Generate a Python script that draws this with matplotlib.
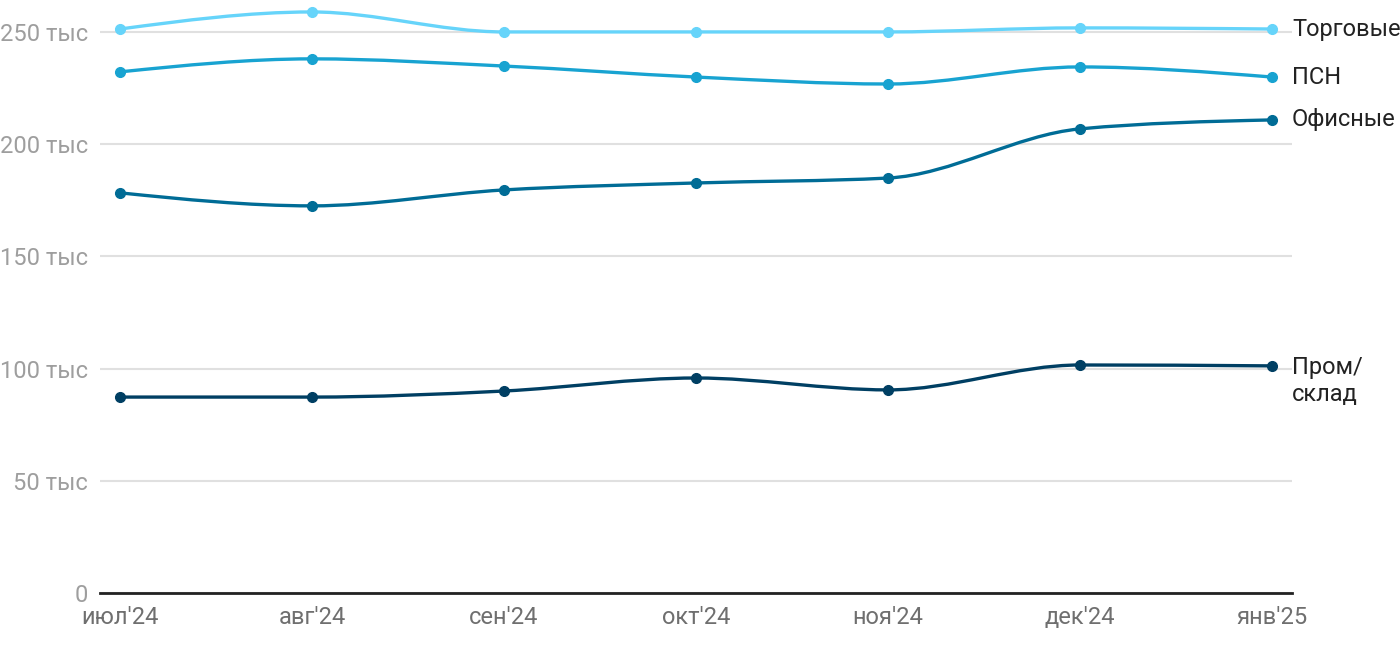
import numpy as np
import matplotlib.pyplot as plt
from matplotlib.path import Path
from matplotlib.patches import PathPatch

plt.rcParams['font.family'] = ['Roboto', 'DejaVu Sans']

months = ["июл'24", "авг'24", "сен'24", "окт'24", "ноя'24", "дек'24", "янв'25"]

torgovye = [251.3, 258.9, 250.0, 250.0, 250.0, 251.8, 251.3]
psn = [232.2, 238.0, 234.8, 229.9, 226.8, 234.4, 229.9]
ofisnye = [178.3, 172.5, 179.6, 182.7, 184.9, 206.8, 210.8]
prom_sklad = [87.3, 87.3, 90.0, 95.8, 90.5, 101.6, 101.2]

series = [
    ("Торговые", torgovye, "#66d4fa"),
    ("ПСН", psn, "#18a3d1"),
    ("Офисные", ofisnye, "#006c96"),
    ("Пром/\nсклад", prom_sklad, "#003f63"),
]


def monotone_path(x, y):
    # monotone cubic (like d3 curveMonotoneX) as bezier segments
    x = np.asarray(x, float)
    y = np.asarray(y, float)
    h = np.diff(x)
    s = np.diff(y) / h
    n = len(x)
    m = np.zeros(n)
    for i in range(1, n - 1):
        if s[i - 1] * s[i] <= 0:
            m[i] = 0
        else:
            p = (s[i - 1] * h[i] + s[i] * h[i - 1]) / (h[i - 1] + h[i])
            m[i] = np.sign(s[i - 1]) * min(abs(s[i - 1]), abs(s[i]), 0.5 * abs(p)) * 2
    m[0] = (3 * s[0] - m[1]) / 2 if n > 2 else s[0]
    m[-1] = (3 * s[-1] - m[-2]) / 2 if n > 2 else s[-1]
    verts = [(x[0], y[0])]
    codes = [Path.MOVETO]
    for i in range(n - 1):
        d = h[i] / 3
        verts += [(x[i] + d, y[i] + m[i] * d), (x[i + 1] - d, y[i + 1] - m[i + 1] * d), (x[i + 1], y[i + 1])]
        codes += [Path.CURVE4] * 3
    return Path(verts, codes)


fig = plt.figure(figsize=(14, 6.5), dpi=100)
ax = fig.add_axes([100 / 1400, 57 / 650, 1192 / 1400, 588 / 650])

xs = np.arange(len(months))
for name, vals, color in series:
    ax.add_patch(PathPatch(monotone_path(xs, vals), facecolor="none", edgecolor=color,
                           lw=2.4, capstyle="round", zorder=3))
    ax.plot(xs, vals, "o", color=color, ms=7, zorder=4)
    ax.annotate(name, (xs[-1], vals[-1]), xytext=(1292, 7 if "\n" in name else 0),
                textcoords=("figure pixels", "offset points"),
                fontsize=17, color="#222222", va="top" if "\n" in name else "center",
                ha="left", annotation_clip=False)

ax.set_xlim(-0.104, 6.104)
ax.set_ylim(0, 262)
ax.set_yticks([0, 50, 100, 150, 200, 250])
ax.set_yticklabels(["0", "50 тыс", "100 тыс", "150 тыс", "200 тыс", "250 тыс"])
ax.set_xticks(xs)
ax.set_xticklabels(months)
ax.grid(axis="y", color="#e0e0e0", lw=1.5)
ax.set_axisbelow(True)
for sp in ["top", "right", "left"]:
    ax.spines[sp].set_visible(False)
ax.spines["bottom"].set_color("#222222")
ax.spines["bottom"].set_linewidth(2)
ax.tick_params(axis="y", length=0, pad=8.5, labelsize=17, labelcolor="#9e9e9e")
ax.tick_params(axis="x", length=0, pad=9, labelsize=17, labelcolor="#6f6f6f")

fig.savefig("out.png", dpi=100)
